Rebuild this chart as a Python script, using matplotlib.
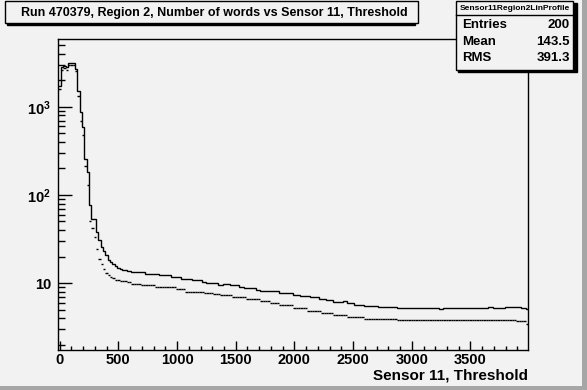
import numpy as np
import matplotlib
matplotlib.use('Agg')
import matplotlib.pyplot as plt
from matplotlib.patches import Rectangle
from matplotlib.ticker import FixedLocator, LogLocator, MultipleLocator, NullFormatter

plt.rcParams['font.family'] = 'Liberation Sans'
plt.rcParams['font.weight'] = 'bold'
plt.rcParams['mathtext.fontset'] = 'custom'
plt.rcParams['mathtext.rm'] = 'Liberation Sans:bold'
plt.rcParams['mathtext.it'] = 'Liberation Sans:bold'
plt.rcParams['mathtext.bf'] = 'Liberation Sans:bold'

#####
# Data (200 bins of width 20)

bin_width = 20
first_edge = -10

upper = [
    1730, 2800, 2880, 2800, 3140, 3140, 3140, 2680, 1520, 877,
    593, 256, 182, 76.3, 54, 54, 38, 30.8, 25.6, 23,
    20.7, 18.5, 17.3, 16.5, 15.5, 15.0, 14.5, 14.2, 14.2, 13.6,
    13.6, 13.3, 13.3, 13.3, 13.3, 13.3, 13.3, 12.7, 12.7, 12.7,
    12.7, 12.7, 12.7, 12.2, 12.2, 12.2, 12.2, 12.2, 11.6, 11.6,
    11.6, 11.6, 11.2, 11.2, 11.2, 11.2, 11.2, 10.8, 10.8, 10.8,
    10.8, 10.4, 10.4, 9.97, 9.97, 9.97, 9.97, 9.97, 9.57, 9.57,
    9.72, 9.72, 9.72, 9.57, 9.57, 9.57, 9.57, 9.14, 9.14, 8.75,
    8.75, 8.75, 8.75, 8.75, 8.45, 8.45, 8.03, 8.03, 8.03, 8.03,
    8.03, 8.03, 8.03, 8.03, 7.62, 7.62, 7.62, 7.62, 7.62, 7.62,
    7.36, 7.36, 7.36, 7.11, 7.11, 7.11, 7.11, 6.87, 6.87, 6.87,
    6.87, 6.64, 6.64, 6.64, 6.40, 6.40, 6.40, 6.08, 6.08, 6.08,
    6.08, 6.19, 6.19, 5.88, 5.88, 5.88, 5.68, 5.68, 5.68, 5.68,
    5.47, 5.47, 5.47, 5.47, 5.47, 5.47, 5.33, 5.33, 5.33, 5.33,
    5.33, 5.33, 5.33, 5.33, 5.25, 5.25, 5.25, 5.25, 5.25, 5.25,
    5.25, 5.25, 5.25, 5.20, 5.20, 5.20, 5.20, 5.20, 5.20, 5.20,
    5.20, 5.20, 5.14, 5.14, 5.20, 5.20, 5.20, 5.20, 5.20, 5.20,
    5.20, 5.20, 5.20, 5.20, 5.25, 5.20, 5.20, 5.20, 5.20, 5.20,
    5.20, 5.20, 5.20, 5.30, 5.30, 5.20, 5.20, 5.20, 5.20, 5.20,
    5.30, 5.30, 5.30, 5.30, 5.30, 5.30, 5.30, 5.20, 5.20, 5.02,
]

lower = [
    1600, 2650, 2750, 2650, 3000, 3000, 3000, 2520, 1340, 690,
    480, 215, 131, 50.8, 42, 33, 24.4, 19, 16.6, 14.5,
    13.1, 12.4, 11.8, 11.3, 10.9, 10.9, 10.5, 10.5, 10.5, 10.2,
    10.2, 9.82, 9.82, 9.82, 9.82, 9.40, 9.40, 9.40, 9.40, 9.40,
    9.40, 8.92, 8.92, 8.92, 8.92, 8.92, 8.92, 8.92, 8.92, 8.92,
    8.46, 8.46, 8.46, 8.46, 7.97, 7.97, 7.97, 7.97, 7.97, 7.97,
    7.97, 7.97, 7.69, 7.69, 7.69, 7.69, 7.49, 7.49, 7.49, 7.24,
    7.24, 7.24, 7.24, 7.24, 6.92, 6.92, 6.92, 6.92, 6.92, 6.92,
    6.52, 6.52, 6.52, 6.52, 6.52, 6.52, 6.30, 6.30, 6.30, 6.30,
    5.88, 5.88, 5.88, 5.88, 5.58, 5.58, 5.58, 5.58, 5.58, 5.58,
    5.20, 5.20, 5.20, 5.20, 5.20, 5.20, 4.81, 4.81, 4.81, 4.81,
    4.81, 4.81, 4.53, 4.53, 4.53, 4.53, 4.53, 4.35, 4.35, 4.35,
    4.35, 4.35, 4.35, 4.10, 4.10, 4.10, 4.10, 4.10, 4.10, 4.10,
    3.87, 3.87, 3.87, 3.87, 3.87, 3.87, 3.87, 3.87, 3.87, 3.87,
    3.87, 3.87, 3.87, 3.87, 3.80, 3.80, 3.80, 3.80, 3.80, 3.80,
    3.80, 3.80, 3.80, 3.80, 3.80, 3.80, 3.80, 3.80, 3.80, 3.80,
    3.80, 3.80, 3.80, 3.80, 3.80, 3.80, 3.80, 3.80, 3.80, 3.80,
    3.80, 3.80, 3.80, 3.80, 3.80, 3.80, 3.80, 3.80, 3.80, 3.80,
    3.80, 3.80, 3.80, 3.80, 3.80, 3.80, 3.80, 3.80, 3.80, 3.80,
    3.80, 3.80, 3.80, 3.80, 3.80, 3.67, 3.67, 3.67, 3.67, 3.46,
]

title = 'Run 470379, Region 2, Number of words vs Sensor 11, Threshold'
xlabel = 'Sensor 11, Threshold'
stat_name = 'Sensor11Region2LinProfile'
stat_rows = [('Entries', '200'), ('Mean', '143.5'), ('RMS', '391.3')]
ytick_vals = [10, 100, 1000]
ytick_labels = ['10', r'$10^{2}$', r'$10^{3}$']

#####
# Plot

W, H = 587, 390
bg = '#f2f2f2'

def fx(px):
    return px / W

def fy(py):
    return 1 - py / H

fig = plt.figure(figsize=(W / 100, H / 100), dpi=100, facecolor=bg)
ax = fig.add_axes([fx(58), fy(350), 470 / W, 311 / H])
ax.set_facecolor(bg)

edges = first_edge + bin_width * np.arange(len(upper) + 1)
ax.stairs(upper, edges, baseline=None, color='black', lw=1.0)
ax.hlines(lower, edges[:-1], edges[1:], color='black', lw=1.0)

ax.set_yscale('log')
ax.set_xlim(-14, 3990)
ax.set_ylim(1.74, 5890)

for s in ax.spines.values():
    s.set_color('black')
    s.set_linewidth(1.0)

ax.xaxis.set_major_locator(MultipleLocator(500))
ax.xaxis.set_minor_locator(MultipleLocator(100))
ax.yaxis.set_major_locator(FixedLocator(ytick_vals))
ax.set_yticklabels(ytick_labels)
ax.yaxis.set_minor_locator(LogLocator(base=10, subs=np.arange(2, 10)))
ax.yaxis.set_minor_formatter(NullFormatter())

ax.tick_params(axis='x', which='both', direction='in', top=False, labelsize=10.5, pad=2.5, width=1)
ax.tick_params(axis='x', which='major', length=6.5)
ax.tick_params(axis='x', which='minor', length=3.2)
ax.tick_params(axis='y', which='both', direction='in', right=False, labelsize=10.5, pad=5, width=1)
ax.tick_params(axis='y', which='major', length=10)
ax.tick_params(axis='y', which='minor', length=5)

fig.text(fx(528), fy(375), xlabel, ha='right', va='center', fontsize=11, fontweight='bold')

# title box with shadow
fig.patches.append(Rectangle((fx(7), fy(25)), fx(413) - fx(5), fy(1) - fy(23),
                             transform=fig.transFigure, facecolor='black', edgecolor='black', zorder=1))
fig.patches.append(Rectangle((fx(5), fy(23)), fx(418) - fx(5), fy(1) - fy(23),
                             transform=fig.transFigure, facecolor=bg, edgecolor='black', lw=1, zorder=2))
fig.text(fx(214), fy(13), title, ha='center', va='center', fontsize=9, fontweight='bold', zorder=3)

# stat box with shadow
fig.patches.append(Rectangle((fx(458), fy(72)), fx(575) - fx(456), fy(1) - fy(70),
                             transform=fig.transFigure, facecolor='black', edgecolor='black', zorder=1))
fig.patches.append(Rectangle((fx(456), fy(70)), fx(573) - fx(456), fy(1) - fy(70),
                             transform=fig.transFigure, facecolor=bg, edgecolor='black', lw=1, zorder=2))
fig.lines.append(plt.Line2D([fx(456), fx(573)], [fy(15), fy(15)], transform=fig.transFigure,
                            color='black', lw=1, zorder=3))
fig.text(fx(514.5), fy(8), stat_name, ha='center', va='center', fontsize=6, fontweight='bold', zorder=3)
for i, (name, val) in enumerate(stat_rows):
    y = 25.5 + 16.3 * i
    fig.text(fx(462), fy(y), name, ha='left', va='center', fontsize=9.5, fontweight='bold', zorder=3)
    fig.text(fx(570), fy(y), val, ha='right', va='center', fontsize=9.5, fontweight='bold', zorder=3)

# canvas border (right and bottom bevel)
fig.patches.append(Rectangle((fx(582), 0), fx(587) - fx(582), 1, transform=fig.transFigure,
                             facecolor='#a6a6a6', edgecolor='none', zorder=0))
fig.patches.append(Rectangle((0, 0), 1, fy(386), transform=fig.transFigure,
                             facecolor='#a6a6a6', edgecolor='none', zorder=0))

fig.savefig('out.png', dpi=100, facecolor=bg)
